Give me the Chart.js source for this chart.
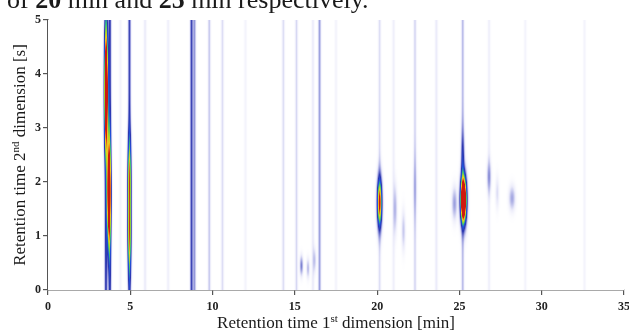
<!DOCTYPE html>
<html lang="en">
<head>
  <meta charset="UTF-8">
  <title>GCxGC chromatogram</title>
  <script src="https://cdn.jsdelivr.net/npm/chart.js"></script>
  <style>
    html, body { margin: 0; padding: 0; background: #fff; }
    #wrap { width: 629px; height: 331px; }
  </style>
</head>
<body>
  <div id="wrap"><canvas id="gcChart"></canvas></div>

  <script>
    // axis ticks
    const rt1Ticks = [0, 5, 10, 15, 20, 25, 30, 35];
    const rt2Ticks = [0, 1, 2, 3, 4, 5];

    // full-height streaks (1st dimension position in min, intensity)
    const streakRt1 = [3.52, 3.76, 4.95, 4.4, 5.9, 7.3, 8.72, 8.9, 9.8, 10.6, 12.0, 14.3, 15.1, 16.1, 16.5, 17.5, 20.15, 21.0, 22.3, 23.6, 25.2, 26.8, 29.0, 32.6];
    const streakHeight = [0.3, 0.3, 0.28, 0.03, 0.05, 0.04, 0.28, 0.17, 0.1, 0.07, 0.03, 0.07, 0.08, 0.05, 0.16, 0.03, 0.07, 0.04, 0.08, 0.05, 0.12, 0.04, 0.03, 0.03];

    // 2D peaks: position (min, s), intensity and spread in each dimension
    const peakRt1 = [3.54, 3.70, 4.95, 4.95, 15.4, 15.8, 16.2, 20.15, 21.1, 21.6, 22.3, 24.7, 25.25, 25.2, 26.8, 27.3, 28.2];
    const peakRt2 = [3.7, 1.8, 1.0, 2.1, 0.45, 0.4, 0.55, 1.62, 1.5, 1.1, 1.9, 1.6, 1.67, 2.45, 2.1, 1.8, 1.7];
    const peakHeight = [1.4, 1.4, 0.62, 0.62, 0.2, 0.12, 0.1, 1.0, 0.12, 0.1, 0.08, 0.16, 1.8, 0.22, 0.15, 0.07, 0.15];
    const peakSpread1 = [0.08, 0.08, 0.08, 0.08, 0.07, 0.07, 0.07, 0.1, 0.08, 0.08, 0.08, 0.11, 0.12, 0.08, 0.09, 0.08, 0.13];
    const peakSpread2 = [0.72, 0.68, 0.5, 0.5, 0.12, 0.12, 0.15, 0.3, 0.3, 0.25, 0.4, 0.2, 0.28, 0.35, 0.2, 0.2, 0.15];

    const streakSpread = 0.06;

    // white -> blue -> green -> yellow -> red
    const colorStops = [
      [0.00, 255, 255, 255],
      [0.05, 236, 236, 250],
      [0.15, 165, 168, 226],
      [0.30, 45, 55, 175],
      [0.45, 30, 80, 220],
      [0.58, 60, 190, 120],
      [0.70, 170, 215, 40],
      [0.80, 240, 200, 30],
      [0.90, 235, 110, 30],
      [1.00, 205, 25, 15]
    ];

    function colorFor(v) {
      if (v <= 0) return colorStops[0].slice(1);
      if (v >= 1) return colorStops[colorStops.length - 1].slice(1);
      for (let i = 1; i < colorStops.length; i++) {
        const a = colorStops[i - 1], b = colorStops[i];
        if (v <= b[0]) {
          const t = (v - a[0]) / (b[0] - a[0]);
          return [a[1] + (b[1] - a[1]) * t, a[2] + (b[2] - a[2]) * t, a[3] + (b[3] - a[3]) * t];
        }
      }
    }

    // paints the intensity surface inside the plot area
    const heatmapPlugin = {
      id: 'gcHeatmap',
      beforeDatasetsDraw(chart) {
        const { ctx, chartArea: area, scales: { x, y } } = chart;
        const w = Math.round(area.right - area.left);
        const h = Math.round(area.bottom - area.top);
        const off = document.createElement('canvas');
        off.width = w;
        off.height = h;
        const octx = off.getContext('2d');
        const img = octx.createImageData(w, h);
        const n = peakRt1.length;

        const base = new Float32Array(w);
        const fx = [];
        for (let k = 0; k < n; k++) fx.push(new Float32Array(w));
        for (let px = 0; px < w; px++) {
          const xv = x.getValueForPixel(area.left + px + 0.5);
          let s = 0;
          streakRt1.forEach((r, i) => {
            const d = (xv - r) / streakSpread;
            s += streakHeight[i] * Math.exp(-0.5 * d * d);
          });
          base[px] = s;
          for (let k = 0; k < n; k++) {
            const d = (xv - peakRt1[k]) / peakSpread1[k];
            fx[k][px] = peakHeight[k] * Math.exp(-0.5 * d * d);
          }
        }

        const fy = new Float32Array(n);
        for (let py = 0; py < h; py++) {
          const yv = y.getValueForPixel(area.top + py + 0.5);
          for (let k = 0; k < n; k++) {
            const d = (yv - peakRt2[k]) / peakSpread2[k];
            fy[k] = Math.exp(-0.5 * d * d);
          }
          for (let px = 0; px < w; px++) {
            let v = base[px];
            for (let k = 0; k < n; k++) v += fx[k][px] * fy[k];
            const c = colorFor(v);
            const idx = (py * w + px) * 4;
            img.data[idx] = c[0];
            img.data[idx + 1] = c[1];
            img.data[idx + 2] = c[2];
            img.data[idx + 3] = 255;
          }
        }
        octx.putImageData(img, 0, 0);
        ctx.drawImage(off, area.left, area.top);
      }
    };

    // axis titles with superscripts, plus the cut-off line of text above
    function drawSup(ctx, parts, size) {
      let total = 0;
      parts.forEach(p => {
        ctx.font = (p.sup ? size * 0.65 : size) + 'px "Liberation Serif"';
        total += ctx.measureText(p.t).width;
      });
      let cx = -total / 2;
      parts.forEach(p => {
        ctx.font = (p.sup ? size * 0.65 : size) + 'px "Liberation Serif"';
        ctx.fillText(p.t, cx, p.sup ? -size * 0.38 : 0);
        cx += ctx.measureText(p.t).width;
      });
    }

    const textPlugin = {
      id: 'gcText',
      afterDraw(chart) {
        const { ctx, chartArea: area } = chart;
        ctx.save();
        ctx.fillStyle = '#1a1a1a';
        ctx.textBaseline = 'alphabetic';
        ctx.textAlign = 'left';

        ctx.save();
        ctx.translate((area.left + area.right) / 2, 328);
        drawSup(ctx, [{ t: 'Retention time 1' }, { t: 'st', sup: true }, { t: ' dimension [min]' }], 17);
        ctx.restore();

        ctx.save();
        ctx.translate(25, (area.top + area.bottom) / 2);
        ctx.rotate(-Math.PI / 2);
        drawSup(ctx, [{ t: 'Retention time 2' }, { t: 'nd', sup: true }, { t: ' dimension [s]' }], 17);
        ctx.restore();

        // fragment of the surrounding document text, clipped at the top edge
        const pieces = [['of ', false], ['20', true], [' min and ', false], ['25', true], [' min respectively.', false]];
        let tx = 7;
        pieces.forEach(([t, bold]) => {
          ctx.font = (bold ? 'bold ' : '') + '26px "Liberation Serif"';
          ctx.fillText(t, tx, 8);
          tx += ctx.measureText(t).width;
        });
        ctx.restore();
      }
    };

    const tickFont = { family: '"Liberation Serif"', size: 12, weight: 'bold' };

    new Chart(document.getElementById('gcChart'), {
      type: 'scatter',
      data: {
        datasets: [{
          data: peakRt1.map((r, i) => ({ x: r, y: peakRt2[i] })),
          pointRadius: 0
        }]
      },
      options: {
        responsive: true,
        maintainAspectRatio: false,
        animation: false,
        layout: { padding: { top: 20, right: 5, left: 0, bottom: 0 } },
        plugins: { legend: { display: false }, tooltip: { enabled: false } },
        scales: {
          x: {
            type: 'linear',
            min: rt1Ticks[0],
            max: rt1Ticks[rt1Ticks.length - 1],
            afterBuildTicks: s => { s.ticks = rt1Ticks.map(v => ({ value: v })); },
            afterFit: s => { s.height = 41; s.paddingLeft = 0; s.paddingRight = 0; },
            grid: { display: true, drawOnChartArea: false, drawTicks: true, tickLength: 5, color: '#555', lineWidth: 1.2 },
            border: { display: true, color: '#555', width: 1.5 },
            ticks: { font: tickFont, color: '#222', padding: 5, maxRotation: 0 }
          },
          y: {
            type: 'linear',
            min: rt2Ticks[0],
            max: rt2Ticks[rt2Ticks.length - 1],
            afterBuildTicks: s => { s.ticks = rt2Ticks.map(v => ({ value: v })); },
            afterFit: s => { s.width = 48; s.paddingTop = 0; s.paddingBottom = 0; },
            grid: { display: true, drawOnChartArea: false, drawTicks: true, tickLength: 5, color: '#555', lineWidth: 1.2 },
            border: { display: true, color: '#555', width: 1.5 },
            ticks: { font: tickFont, color: '#222', padding: 2 }
          }
        }
      },
      plugins: [heatmapPlugin, textPlugin]
    });
  </script>
</body>
</html>
